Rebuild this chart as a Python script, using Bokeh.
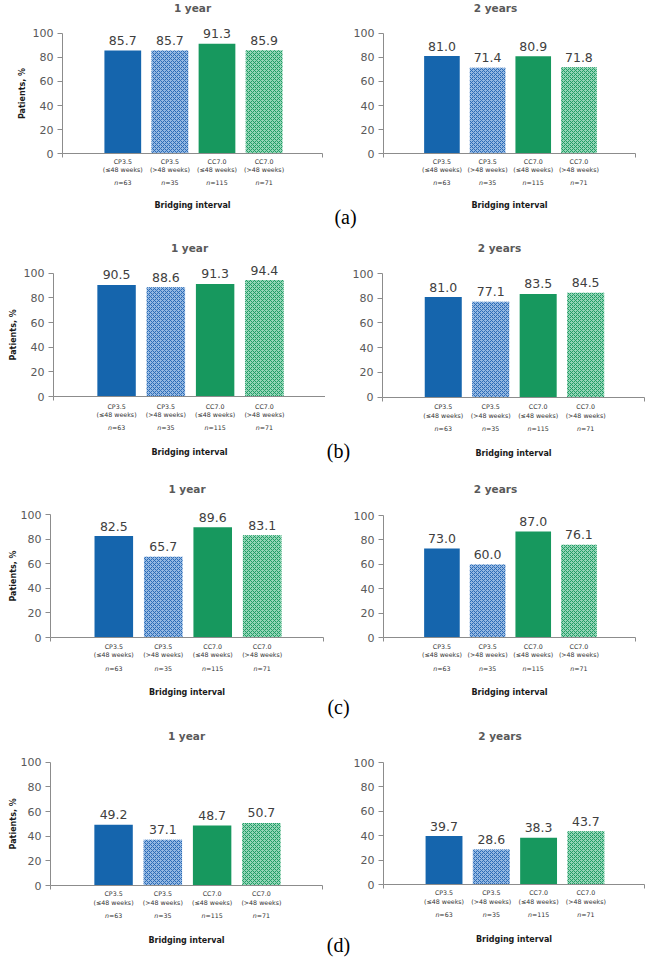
from bokeh.plotting import figure
from bokeh.models import Range1d, FixedTicker, LinearAxis, ColumnDataSource
from bokeh.core.properties import value
from bokeh.layouts import column, row
from bokeh.embed import file_html
from bokeh.resources import INLINE
import math

# ---------------- data ----------------
categories = ["CP3.5", "CP3.5", "CC7.0", "CC7.0"]
intervals = ["(≤48 weeks)", "(>48 weeks)", "(≤48 weeks)", "(>48 weeks)"]
n_values = [63, 35, 115, 71]
period_titles = ["1 year", "2 years"]
panel_letters = ["(a)", "(b)", "(c)", "(d)"]
x_title = "Bridging interval"
y_title = "Patients, %"
y_ticks = [0, 20, 40, 60, 80, 100]

a_1year = [85.7, 85.7, 91.3, 85.9]
a_2years = [81.0, 71.4, 80.9, 71.8]
b_1year = [90.5, 88.6, 91.3, 94.4]
b_2years = [81.0, 77.1, 83.5, 84.5]
c_1year = [82.5, 65.7, 89.6, 83.1]
c_2years = [73.0, 60.0, 87.0, 76.1]
d_1year = [49.2, 37.1, 48.7, 50.7]
d_2years = [39.7, 28.6, 38.3, 43.7]

rows_data = [(a_1year, a_2years), (b_1year, b_2years), (c_1year, c_2years), (d_1year, d_2years)]

# ---------------- styles / layout ----------------
FONT = "DejaVu Sans"
BAR_FILL = ["#1565ad", "#94b8e2", "#17985e", "#93d5b6"]
BAR_HATCH = [" ", "diagonal_cross", " ", "diagonal_cross"]
HATCH_COL = ["#1565ad", "#2b6bb6", "#17985e", "#1f9c64"]
AXIS_COL = "#8c8c8c"
X0, X1 = -1.28, 4.24
BAR_W = 0.78
LEFT_W, RIGHT_W = 325, 325
ROW_TOP = [0, 238, 478, 722]
ROW_H = [238, 240, 244, 238]

# frame geometry (page px): left, right, y of 100, y of 0
GEO_L = [(62, 322, 32.7, 153.3), (53, 325, 272.7, 396.0), (50, 323, 514.0, 637.0), (50, 322, 761.7, 885.0)]
GEO_R = [(383, 635, 32.7, 153.3), (382, 644, 273.0, 396.7), (383, 635, 515.0, 637.3), (383, 644, 762.0, 884.0)]
# text offsets below the zero line: line1, line2, n, bridging; title y; y-label x; letter (x, y)
TXT = [
    dict(l1=7.7, l2=15.7, n=28.7, br=51.7, t=7, yl=22, let=(345, 216)),
    dict(l1=9.7, l2=18.0, n=31.0, br=56.0, t=247, yl=13, let=(338, 450)),
    dict(l1=9.0, l2=17.0, n=31.0, br=55.0, t=488, yl=13, let=(338, 706)),
    dict(l1=8.0, l2=17.0, n=30.0, br=55.0, t=735, yl=13, let=(338, 944)),
]

CAT_SIZE = 6.3
VALUE_GAP = 10  # px between bar top and value-label centre


def text_width(s, size):
    w = {"n": 0.634, "=": 0.838}
    return sum(w.get(ch, 0.636) for ch in s) * size


def make_panel(values, title, is_left, k, letter=None):
    fl, fr, ft, fb = (GEO_L if is_left else GEO_R)[k]
    t = TXT[k]
    cx = 0 if is_left else LEFT_W
    cy, H = ROW_TOP[k], ROW_H[k]
    W = LEFT_W if is_left else RIGHT_W
    sx = (fr - fl) / (X1 - X0)
    sy = (fb - ft) / 100.0

    def px2x(px):
        return X0 + (px - fl) / sx

    def py2y(py):
        return (fb - py) / sy

    p = figure(width=W, height=H,
               x_range=Range1d(px2x(cx), px2x(cx + W)),
               y_range=Range1d(py2y(cy + H), py2y(cy)),
               x_axis_location=None, y_axis_location=None,
               output_backend="svg", toolbar_location=None, min_border=0)
    p.outline_line_color = None
    p.grid.grid_line_color = None
    p.background_fill_color = "white"
    p.border_fill_color = "white"

    ya = LinearAxis(fixed_location=X0, bounds=(0, 100), ticker=FixedTicker(ticks=y_ticks))
    ya.major_tick_out = 5
    ya.major_tick_in = 0
    ya.minor_tick_line_color = None
    ya.axis_line_color = AXIS_COL
    ya.major_tick_line_color = AXIS_COL
    ya.major_label_text_font = FONT
    ya.major_label_text_font_size = "11px"
    ya.major_label_text_color = "#595959"
    ya.major_label_standoff = 4
    p.add_layout(ya, "left")

    xa = LinearAxis(fixed_location=0, bounds=(X0, X1), ticker=FixedTicker(ticks=[X0, X1]))
    xa.major_tick_out = 4
    xa.major_tick_in = 0
    xa.minor_tick_line_color = None
    xa.axis_line_color = AXIS_COL
    xa.major_tick_line_color = AXIS_COL
    xa.major_label_text_font_size = "1px"
    xa.major_label_text_alpha = 0
    p.add_layout(xa, "below")

    xs = list(range(len(values)))
    src = ColumnDataSource(dict(x=xs, top=values, fill=BAR_FILL, hatch=BAR_HATCH, hcol=HATCH_COL))
    p.vbar(x="x", top="top", bottom=0, width=BAR_W, source=src, fill_color="fill", line_color=None,
           hatch_pattern="hatch", hatch_color="hcol", hatch_scale=4, hatch_weight=1)

    # values above bars
    p.text(x=xs, y=[v + VALUE_GAP / sy for v in values], text=[f"{v:.1f}" for v in values],
           text_align="center", text_baseline="middle", text_font=value(FONT),
           text_font_size=value("12.5px"), text_color="#404040")

    # category labels
    zero_py = fb
    p.text(x=xs, y=[py2y(zero_py + t["l1"])] * 4, text=categories, text_align="center",
           text_baseline="middle", text_font=value(FONT), text_font_size=value(f"{CAT_SIZE}px"),
           text_color="#333333")
    p.text(x=xs, y=[py2y(zero_py + t["l2"])] * 4, text=intervals, text_align="center",
           text_baseline="middle", text_font=value(FONT), text_font_size=value(f"{CAT_SIZE}px"),
           text_color="#333333")
    rest = [f"={n}" for n in n_values]
    split = [i + (-text_width("n" + r, CAT_SIZE) / 2 + text_width("n", CAT_SIZE)) / sx
             for i, r in zip(xs, rest)]
    ny = [py2y(zero_py + t["n"])] * 4
    p.text(x=split, y=ny, text=["n"] * 4, text_align="right", text_baseline="middle",
           text_font=value(FONT), text_font_size=value(f"{CAT_SIZE}px"), text_font_style="italic",
           text_color="#333333")
    p.text(x=split, y=ny, text=rest, text_align="left", text_baseline="middle",
           text_font=value(FONT), text_font_size=value(f"{CAT_SIZE}px"), text_color="#333333")

    # axis title below
    xc = (X0 + X1) / 2
    p.text(x=[xc], y=[py2y(zero_py + t["br"])], text=[x_title], text_align="center",
           text_baseline="middle", text_font=value(FONT), text_font_size=value("8px"),
           text_font_style="bold", text_color="#1a1a1a")

    # panel title
    tx = xc if is_left else xc - 14 / sx
    p.text(x=[tx], y=[py2y(t["t"])], text=[title], text_align="center", text_baseline="middle",
           text_font=value(FONT), text_font_size=value("10.5px"), text_font_style="bold",
           text_color="#595959")

    if is_left:
        p.text(x=[px2x(t["yl"])], y=[50], text=[y_title], angle=math.pi / 2, text_align="center",
               text_baseline="middle", text_font=value(FONT), text_font_size=value("8px"),
               text_font_style="bold", text_color="#1a1a1a")
    if letter is not None:
        lx, ly = t["let"]
        p.text(x=[px2x(lx)], y=[py2y(ly)], text=[letter], text_align="center", text_baseline="middle",
               text_font=value("Liberation Serif"), text_font_size=value("20px"), text_color="#000000")
    return p


rows = []
for k, (v1, v2) in enumerate(rows_data):
    pl = make_panel(v1, period_titles[0], True, k)
    pr = make_panel(v2, period_titles[1], False, k, letter=panel_letters[k])
    rows.append(row(pl, pr, spacing=0))

layout = column(*rows, spacing=0)
open("out.html", "w").write(file_html(layout, INLINE))
